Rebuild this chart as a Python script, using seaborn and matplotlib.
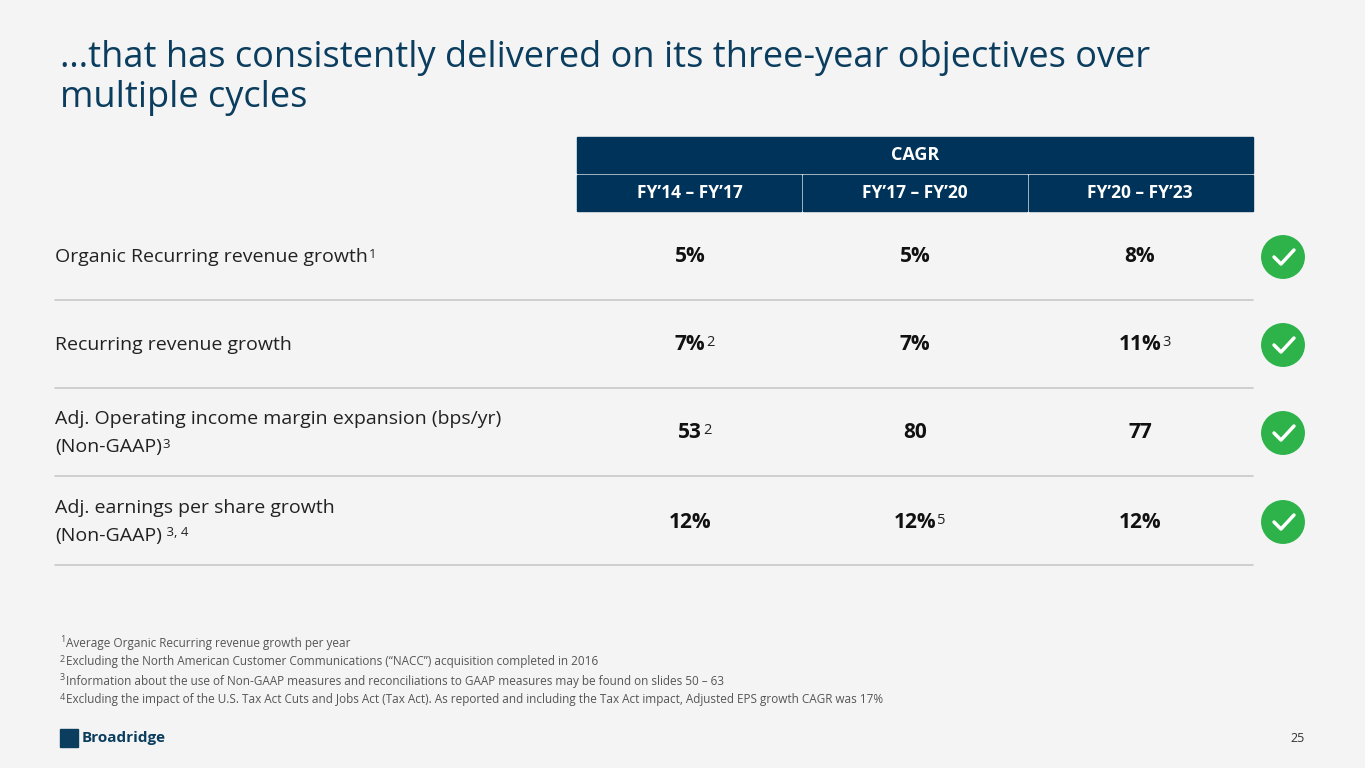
import matplotlib.pyplot as plt
import seaborn as sns
import pandas as pd
from matplotlib.patches import Rectangle

sns.set_theme(style="white")
plt.rcParams['font.family'] = ['Open Sans', 'DejaVu Sans']

periods = ["FY’14 – FY’17", "FY’17 – FY’20", "FY’20 – FY’23"]
metrics = ["Organic Recurring revenue growth", "Recurring revenue growth",
           "Adj. Operating income margin expansion (bps/yr)\n(Non-GAAP)",
           "Adj. earnings per share growth\n(Non-GAAP)"]
metric_sup = ["1", "", "3", " 3, 4"]
values = [["5%", "5%", "8%"], ["7%", "7%", "11%"], ["53", "80", "77"], ["12%", "12%", "12%"]]
value_sup = [["", "", ""], ["2", "", "3"], ["2", "", ""], ["", "5", ""]]
achieved = [True, True, True, True]
footnotes = ["1Average Organic Recurring revenue growth per year",
             "2Excluding the North American Customer Communications (“NACC”) acquisition completed in 2016",
             "3Information about the use of Non-GAAP measures and reconciliations to GAAP measures may be found on slides 50 – 63",
             "4Excluding the impact of the U.S. Tax Act Cuts and Jobs Act (Tax Act). As reported and including the Tax Act impact, Adjusted EPS growth CAGR was 17%"]

navy = "#003359"
bg = "#f4f4f4"
fig = plt.figure(figsize=(13.65, 7.68), dpi=100, facecolor=bg)
ax = fig.add_axes([0, 0, 1, 1])


def right_edge(t):
    fig.canvas.draw()
    return t.get_window_extent().transformed(ax.transData.inverted()).x1


checks = pd.DataFrame({"x": [1283] * 4, "y": [257, 345, 433, 522], "ok": achieved})
sns.scatterplot(data=checks[checks.ok], x="x", y="y", s=1000, color="#2eb34b", edgecolor="none", ax=ax, legend=False)
ax.set_xlim(0, 1365)
ax.set_ylim(768, 0)
ax.axis("off")

ax.text(60, 78, "…that has consistently delivered on its three-year objectives over\nmultiple cycles",
        fontsize=26, color="#0b3d5e", va="center", linespacing=1.15)

# header
ax.add_patch(Rectangle((577, 137), 676, 36, color=navy))
ax.text(915, 155, "CAGR", color="white", fontsize=13, fontweight="bold", ha="center", va="center")
col_x = [690, 915, 1140]
for i, p in enumerate(periods):
    ax.add_patch(Rectangle((577 + i * 225.3 + (1 if i else 0), 175), 224, 36, color=navy))
    ax.text(col_x[i], 193, p, color="white", fontsize=12.5, fontweight="bold", ha="center", va="center")

row_y = list(checks.y)
for r, y in enumerate(row_y):
    lines = metrics[r].split("\n")
    ys = [y] if len(lines) == 1 else [y - 14, y + 14]
    for ln, ly in zip(lines, ys):
        t = ax.text(55, ly, ln, fontsize=14, color="#222222", va="center")
    if metric_sup[r]:
        ax.text(right_edge(t) + 1, ys[-1] - 3, metric_sup[r], fontsize=9.5, color="#222222", va="center")
    for c in range(3):
        t = ax.text(col_x[c], y, values[r][c], fontsize=15, fontweight="bold", color="#111111", ha="center", va="center")
        if value_sup[r][c]:
            ax.text(right_edge(t) + 1, y - 2, value_sup[r][c], fontsize=10.5, color="#222222", va="center")
    ax.plot([55, 1253], [y + 43, y + 43], color="#c8c8c8", lw=1.2)

for y in row_y:
    ax.plot([1274, 1281, 1294], [y, y + 7, y - 7], color="white", lw=2.5, solid_capstyle="round")

for i, f in enumerate(footnotes):
    y = 643 + i * 19
    ax.text(60, y - 3, f[0], fontsize=6.5, color="#555555", va="center")
    ax.text(66, y, f[1:], fontsize=8.5, color="#555555", va="center")

ax.text(82, 738, "Broadridge", fontsize=11, fontweight="bold", color="#0b3d5e", va="center")
ax.add_patch(Rectangle((60, 729), 18, 18, color="#0b3d5e"))
ax.text(1305, 738, "25", fontsize=9, color="#333333", ha="right", va="center")

fig.savefig("out.png", dpi=100, facecolor=bg)
